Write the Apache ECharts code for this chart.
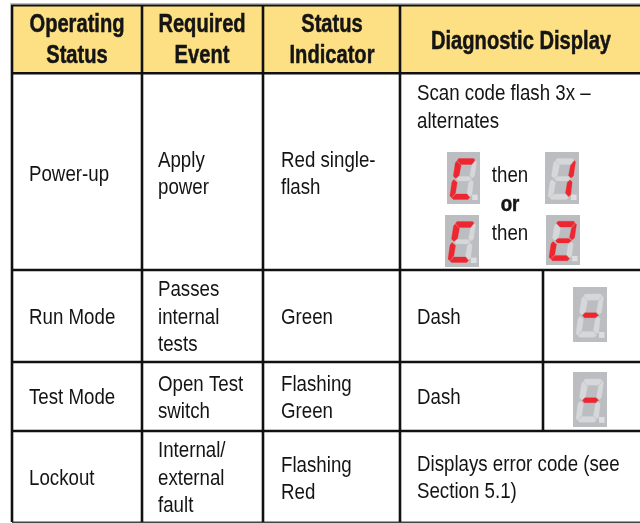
<!DOCTYPE html>
<html><head><meta charset="utf-8">
<style>html,body{margin:0;padding:0;background:#fff}#c{width:640px;height:523px}</style>
<script src="https://cdn.jsdelivr.net/npm/echarts@6/dist/echarts.min.js"></script>
</head><body><div id="c"></div>
<script>
const headers = [["Operating","Status"],["Required","Event"],["Status","Indicator"],["Diagnostic Display"]];
const rowPowerUp = [["Power-up"],["Apply","power"],["Red single-","flash"],["Scan code flash 3x –","alternates"]];
const rowRun = [["Run Mode"],["Passes","internal","tests"],["Green"],["Dash"]];
const rowTest = [["Test Mode"],["Open Test","switch"],["Flashing","Green"],["Dash"]];
const rowLockout = [["Lockout"],["Internal/","external","fault"],["Flashing","Red"],["Displays error code (see","Section 5.1)"]];
const thenOr = ["then","or","then"];
const digitCodes = [["C","1"],["C","2"],["-"],["-"]];

const FONT = '"Liberation Sans",Arial,sans-serif';
const colX = [12,142,263,400,543];
const LH = 27.6;
const els = [];
function rect(x,y,w,h,fill){els.push({type:'rect',shape:{x,y,width:w,height:h},style:{fill},silent:true});}
function txt(s,x,y,o){o=o||{};const st={text:s,fill:'#141414',font:(o.bold?'bold ':'')+(o.size||22)+'px '+FONT,textAlign:o.align||'left',textVerticalAlign:'middle'};
 if(o.bold){st.stroke='#141414';st.lineWidth=0.5;}
 els.push({type:'text',x,y:y+0.8,scaleX:o.sx||0.85,style:st,silent:true});}
function lines(arr,x,cy,o,lh){arr.forEach((s,i)=>txt(s,x,cy+(i-(arr.length-1)/2)*(lh||LH),o));}

// header band and grid
rect(12,5,628,68,'#fde084');
rect(10,3,630,1.5,'#bdbdbd');
rect(11,4.5,629,2,'#111');
rect(12,72,628,2.5,'#111');
[270,362,431].forEach(y=>rect(12,y-1.3,628,2.6,'#111'));
rect(12,521.5,628,1.5,'#444');
colX.slice(0,4).forEach(x=>rect(x-1.3,5,2.6,517,'#111'));
rect(543-1.3,270,2.6,161,'#111');

const hc=[77,202,332,521];
headers.forEach((h,i)=>lines(h,hc[i],i===3?41:39.5,{bold:true,size:25,align:'center',sx:0.805},31));

const tx=[29,158,281,417];
const rows=[[rowPowerUp,[174,173.5,173.5,107]],[rowRun,[317,317,317,317]],[rowTest,[397,397.5,397.5,397]],[rowLockout,[478,478,478.5,477.5]]];
rows.forEach(([r,cy])=>r.forEach((c,i)=>lines(c,tx[i],cy[i])));
thenOr.forEach((s,i)=>txt(s,510,[175,204,233][i],{align:'center',bold:s==='or'}));

// seven segment digits
const SEG={
 a:[[12,6.5],[27.5,6.5],[29,8],[25.5,12.5],[14,12.5],[10.5,8.5]],
 f:[[10,9],[14.5,13.5],[12.5,23.5],[9,26.5],[6.5,24],[8.5,11]],
 b:[[29.5,8.5],[30.5,10],[28.5,24],[26,26],[23.5,23.5],[25.5,13.5]],
 g:[[9.5,26.8],[12,24.4],[23,24.4],[25.5,26.8],[22.5,29],[11.5,29]],
 e:[[7,27.5],[10.5,30.5],[8.8,41],[4.8,45.8],[3,44],[5,30]],
 c:[[25,28],[27.2,30],[25.7,43],[23.5,44.5],[20.5,41],[22.3,30.5]],
 d:[[9,42],[20.5,42],[23.5,45.5],[21.5,47.5],[6.5,47.5],[5,46]]
};
const ON={C:'afed','1':'bc','2':'abged','-':'g'};
function digit(code,x,y,w,h){
 rect(x,y,w,h,'#bcbdc1');
 const sx=w/34, sy=h/52;
 const add=(k,fill)=>els.push({type:'polygon',shape:{points:SEG[k].map(p=>[x+p[0]*sx,y+p[1]*sy])},style:{fill,stroke:fill,lineWidth:0.3,lineJoin:'round'},silent:true});
 'abcdefg'.split('').filter(k=>!ON[code].includes(k)).forEach(k=>add(k,'#d6d7d9'));
 ON[code].split('').forEach(k=>add(k,'#ee2630'));
 rect(x+26*sx,y+42.6*sy,5.6*sx,5.4*sy,'#dcdde0');
}
const boxes=[[[447,152,33,52],[545,152,34,52]],[[445,215,34,52],[546,215,34,50]],[[573,287,34,55]],[[573,372,34,55]]];
digitCodes.forEach((r,i)=>r.forEach((c,j)=>digit(c,...boxes[i][j])));

echarts.init(document.getElementById('c'),null,{renderer:'canvas'}).setOption({
 animation:false,backgroundColor:'#fff',graphic:{elements:els}
});
</script></body></html>
